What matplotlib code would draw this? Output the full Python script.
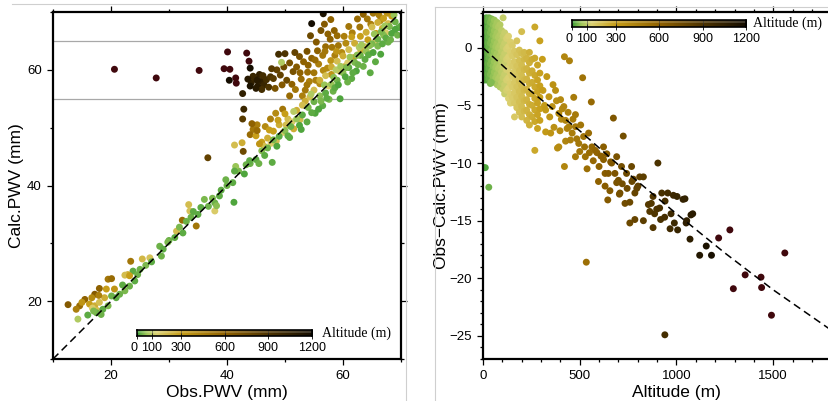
import numpy as np
import matplotlib
matplotlib.use("Agg")
import matplotlib.pyplot as plt
from matplotlib.colors import LinearSegmentedColormap
from matplotlib.lines import Line2D

plt.rcParams['font.family'] = ['Liberation Sans', 'DejaVu Sans']

# colour scale of altitude (m)
cb_ticks = [0, 100, 300, 600, 900, 1200]
cmap_nodes = [0, 60, 130, 300, 600, 900, 1200]
cmap_colors = [(0.25, 0.62, 0.22), (0.62, 0.78, 0.35), (0.86, 0.82, 0.45),
               (0.78, 0.62, 0.10), (0.56, 0.38, 0.00), (0.30, 0.20, 0.00),
               (0.08, 0.05, 0.00)]
over_color = (0.25, 0.03, 0.05)

# ---- left panel: Obs.PWV vs Calc.PWV, coloured by altitude ----
left_obs = [
    20.6, 27.8, 35.2, 39.5, 40.5, 40.1, 43.4, 43.8, 44.0, 40.4, 41.5, 41.6, 42.7, 42.9, 42.7, 36.7, 54.6, 56.6, 42.6, 41.3, 42.8,
    44.2, 44.8, 45.3, 45.9, 46.4, 46.0, 45.0, 44.5, 46.8, 47.2, 45.6, 44.0, 46.2, 47.5, 45.2, 43.6,
    48.0, 48.6, 49.2, 49.8, 50.3, 50.8, 51.4, 48.3, 49.5, 51.2, 52.0, 52.5, 50.0, 48.9, 51.7, 53.2, 47.7, 53.8, 52.8,
    53.5, 54.2, 55.0, 55.8, 56.5, 57.0, 57.8, 58.5, 54.6, 56.0, 57.3, 58.6, 59.2, 60.2, 53.0, 55.4, 56.2, 54.4, 58.0, 61.0,
    62.5, 63.5, 65.2, 66.4, 64.8, 50.8, 51.8, 49.6, 56.8, 57.9,
    53.9, 55.2, 56.9, 58.1, 59.8, 60.5, 61.6, 62.9, 59.0, 57.4, 55.6, 54.0, 52.6, 53.8, 55.3, 56.6, 57.9, 58.9, 60.4, 61.8,
    63.1, 64.3, 65.7, 66.8, 67.8, 68.4, 66.2, 64.2, 67.6,
    56.0, 57.0, 58.0, 59.0, 60.0, 61.0, 62.0, 63.0, 64.0, 65.0, 66.0, 67.0, 57.5, 59.4, 60.8, 62.5, 63.8, 61.5, 64.5, 65.5,
    67.4, 55.0, 53.5, 52.0, 50.5, 49.0, 48.0, 47.0, 46.0, 50.0, 52.6, 51.5, 48.5, 46.6, 45.2, 44.5, 44.0, 45.0,
    47.3, 48.8, 50.2, 51.2, 49.7, 53.0, 54.3, 47.6, 46.4, 45.6,
    44.3, 45.2, 47.5, 48.4,
    40.0, 41.0, 42.0, 43.0, 44.0, 45.0, 46.0, 47.0, 48.0, 49.0, 50.0, 51.0, 52.0, 53.0, 54.0, 55.0, 56.0, 57.0, 58.0, 59.0,
    60.0, 61.0, 62.0, 63.0, 64.0, 65.0, 66.0, 67.0, 68.0, 69.0, 69.6, 68.8, 66.5, 64.7, 59.5, 61.5, 63.5, 65.6, 62.3, 58.3,
    56.5, 55.2, 57.6, 47.8, 41.2, 41.5, 45.5, 53.8, 60.8, 66.0, 67.8, 70.0, 49.4, 51.5, 54.5, 58.8, 62.8,
    46.5, 48.6, 50.5, 52.5, 54.6, 56.2, 58.6, 60.4, 62.6, 64.4, 66.8, 68.4, 69.4, 67.2, 65.4, 63.2, 61.2, 59.6,
    50.8, 52.8, 55.8, 57.2, 59.2, 61.7, 63.8, 65.2, 67.4, 69.0, 68.2, 66.6, 64.6, 62.4, 60.6, 58.4, 56.8,
    43.3, 41.3, 43.9, 38.7, 37.9, 36.1, 33.4, 33.6, 35.0, 37.9, 34.7, 32.3, 33.0, 32.4, 31.3, 28.4, 29.0, 28.7, 26.7, 25.4,
    23.4, 23.8, 22.9, 22.4, 23.2, 24.1, 23.2, 22.4, 19.5, 20.1, 18.0, 17.2, 15.5, 14.6, 12.6, 16.3, 17.2, 18.0, 16.8, 17.6,
    18.9, 19.2, 20.6, 20.1, 20.9, 18.6, 17.5, 17.0, 19.5, 14.3, 21.5, 22.0, 25.0, 26.0, 27.0, 30.0, 31.0, 31.8, 33.8, 35.5,
    36.8, 37.5, 39.0, 39.8, 38.2, 34.2, 29.8, 24.6, 16.0, 18.3, 15.0, 14.0, 16.7, 17.9,
]
left_calc = [
    60.1, 58.6, 59.9, 60.2, 60.1, 63.1, 62.9, 61.5, 60.3, 58.2, 58.6, 57.7, 55.9, 53.2, 51.5, 44.8, 68.0, 69.7, 47.4, 47.0, 45.9,
    57.8, 58.5, 57.2, 58.0, 57.4, 56.6, 56.8, 58.9, 58.3, 57.0, 59.2, 57.2, 59.0, 58.8, 58.2, 58.4,
    58.5, 60.0, 59.1, 60.5, 58.2, 61.2, 59.7, 56.8, 57.4, 57.5, 60.5, 62.3, 62.8, 62.7, 63.0, 61.4, 60.2, 63.2, 58.4,
    56.5, 58.0, 59.5, 61.0, 62.5, 64.0, 65.3, 66.8, 62.0, 57.6, 60.3, 62.5, 64.2, 65.8, 55.5, 64.8, 66.8, 65.9, 59.2, 67.5,
    68.8, 69.6, 69.8, 68.5, 67.9, 55.5, 56.6, 53.2, 67.9, 68.7,
    59.6, 61.7, 63.2, 63.9, 63.0, 64.6, 66.4, 67.4, 65.9, 66.2, 63.3, 60.8, 59.5, 57.4, 58.2, 59.9, 61.6, 63.2, 60.6, 62.1,
    63.3, 65.2, 66.3, 67.2, 68.0, 69.3, 69.5, 68.8, 69.8,
    58.2, 59.0, 60.5, 61.5, 62.4, 63.5, 64.6, 65.8, 66.5, 67.4, 68.2, 68.9, 57.2, 59.8, 61.2, 62.6, 64.0, 65.7, 62.9, 64.8,
    66.4, 56.5, 54.6, 53.0, 51.5, 50.5, 49.4, 48.2, 47.5, 52.4, 51.4, 49.8, 47.7, 50.2, 50.5, 49.7, 48.8, 48.6,
    49.6, 51.3, 50.5, 51.0, 49.2, 53.9, 55.3, 47.3, 46.8, 47.2,
    50.7, 49.5, 51.5, 52.5,
    40.0, 40.5, 42.5, 42.0, 43.8, 44.5, 46.0, 46.5, 47.9, 48.5, 49.5, 50.2, 51.5, 52.2, 53.5, 54.5, 55.5, 56.0, 57.5, 58.2,
    59.5, 60.4, 61.3, 62.5, 63.2, 64.5, 65.3, 66.0, 67.5, 68.3, 67.3, 69.5, 62.7, 59.5, 55.0, 58.5, 60.6, 61.4, 59.8, 56.3,
    53.8, 52.5, 54.9, 44.0, 37.1, 43.3, 43.8, 51.0, 57.9, 64.1, 64.8, 67.6, 61.3, 52.8, 55.8, 60.0, 63.9,
    45.2, 46.8, 48.6, 50.4, 52.6, 54.6, 56.9, 58.8, 60.9, 62.6, 64.5, 66.3, 66.0, 67.6, 66.2, 64.3, 62.2, 60.6,
    48.3, 49.7, 53.2, 55.1, 57.4, 59.5, 61.8, 63.0, 65.5, 67.0, 65.2, 66.6, 64.2, 62.5, 60.4, 58.7, 57.4,
    43.6, 42.5, 44.3, 38.2, 37.0, 37.6, 36.7, 35.6, 35.0, 35.6, 33.0, 34.0, 33.8, 31.8, 32.1, 29.5, 29.0, 27.8, 27.5, 27.3,
    26.9, 25.2, 24.6, 24.5, 24.4, 23.5, 22.6, 21.8, 23.8, 23.9, 22.2, 21.2, 20.3, 19.2, 19.4, 19.5, 19.2, 19.8, 18.8, 18.4,
    20.6, 22.1, 22.1, 20.9, 20.6, 18.6, 18.0, 18.3, 19.2, 16.9, 21.2, 22.8, 25.5, 26.2, 26.8, 30.5, 31.0, 32.8, 34.5, 36.2,
    36.4, 37.8, 39.2, 41.0, 36.5, 35.5, 30.2, 24.6, 17.6, 17.7, 19.8, 18.6, 20.6, 21.0,
]
left_alt = [
    1400, 1450, 1250, 1350, 1400, 1350, 1300, 1250, 1200, 1200, 1250, 1450, 1050, 1000, 850, 800, 1200, 1150, 250, 200, 750,
    1050, 1000, 1100, 1050, 1000, 950, 1100, 1000, 950, 900, 1050, 1150, 950, 900, 1100, 1100,
    850, 800, 800, 750, 750, 700, 700, 700, 650, 600, 650, 700, 900, 950, 800, 600, 850, 700, 550,
    500, 450, 500, 450, 500, 550, 600, 600, 600, 400, 400, 450, 500, 450, 450, 650, 700, 750, 350, 500,
    550, 600, 500, 400, 450, 550, 500, 500, 650, 600,
    550, 550, 500, 500, 400, 400, 450, 500, 550, 600, 600, 600, 600, 500, 450, 400, 350, 350, 300, 300,
    250, 300, 300, 250, 200, 300, 450, 500, 350,
    250, 200, 250, 200, 250, 200, 250, 300, 250, 200, 250, 300, 150, 200, 150, 150, 200, 300, 120, 150,
    150, 200, 250, 250, 200, 250, 300, 250, 300, 300, 200, 250, 200, 400, 450, 500, 550, 300,
    300, 300, 200, 150, 150, 200, 200, 150, 200, 350,
    600, 550, 450, 400,
    30, 20, 40, 10, 30, 20, 50, 30, 40, 20, 50, 30, 60, 20, 40, 30, 50, 20, 60, 30,
    50, 20, 40, 30, 60, 40, 30, 50, 40, 30, 20, 60, 10, 20, 10, 20, 30, 20, 10, 30,
    20, 10, 40, 20, 10, 60, 30, 20, 30, 40, 30, 20, 80, 90, 80, 90, 80,
    20, 10, 20, 10, 20, 40, 20, 10, 30, 20, 20, 10, 30, 70, 60, 70, 60, 70,
    20, 10, 10, 20, 10, 20, 20, 10, 20, 10, 30, 40, 50, 50, 40, 50, 60,
    30, 20, 20, 20, 30, 40, 200, 180, 20, 150, 500, 550, 30, 20, 200, 30, 20, 30, 180, 220,
    500, 20, 250, 200, 300, 20, 30, 40, 500, 550, 600, 650, 600, 550, 650, 300, 250, 200, 150, 200,
    250, 300, 350, 30, 20, 20, 30, 40, 40, 80, 30, 20, 30, 40, 20, 30, 20, 40, 30, 20,
    30, 40, 20, 30, 50, 20, 40, 30, 20, 30, 350, 450, 400, 450,
]

# ---- right panel: altitude vs Obs-Calc.PWV ----
right_alt = [
    3, 3, 3, 3, 3, 3, 3, 10, 10, 10, 10, 10, 10, 17, 17, 17, 17, 17, 17, 17,
    24, 24, 24, 24, 24, 24, 31, 31, 31, 31, 31, 31, 31, 38, 38, 38, 38, 38, 38, 38,
    45, 45, 45, 45, 45, 45, 45, 52, 52, 52, 52, 52, 52, 59, 59, 59, 59, 59, 59, 59,
    66, 66, 66, 66, 66, 66, 73, 73, 73, 73, 73, 73, 73, 80, 80, 80, 80, 80, 80,
    88, 88, 88, 88, 88, 88, 88, 96, 96, 96, 96, 96, 96, 104, 104, 104, 104, 104, 104, 104,
    112, 112, 112, 112, 112, 112, 112, 122, 122, 122, 122, 122, 122, 132, 132, 132, 132, 132, 132, 132,
    142, 142, 142, 142, 142, 142, 142, 152, 152, 152, 152, 152, 152, 163, 163, 163, 163, 163, 163, 163,
    175, 175, 175, 175, 175, 175, 175, 188, 188, 188, 188, 188, 188, 188, 200, 200, 200, 200, 200, 200, 200, 200,
    213, 213, 213, 213, 213, 213, 213, 226, 226, 226, 226, 226, 226, 226, 240, 240, 240, 240, 240, 240, 240, 240,
    254, 254, 254, 254, 254, 254, 268, 268, 268, 268, 268, 268, 268, 268, 282, 282, 282, 282, 282, 282,
    294, 294, 294, 294, 294, 294,
    307, 310, 318, 324, 324, 330, 341, 345, 350, 358, 362, 367, 375, 380, 385, 392, 392, 398, 401, 405,
    410, 418, 421, 421, 427, 427, 435, 440, 444, 447, 452, 461, 465, 469, 478, 478, 478, 485, 495, 500,
    505, 515, 520, 525, 529, 534, 538, 546, 550, 560, 563, 570, 580,
    589, 597, 600, 610, 623, 623, 631, 631, 640, 645, 648, 660, 665, 674, 682, 691, 700, 705, 708, 716,
    720, 725, 734, 742, 745, 759, 759, 768, 770, 785, 785, 795, 801, 810,
    656, 691, 777, 829, 829, 855, 898, 924, 941, 967, 984, 1044, 1053, 1084,
    862, 870, 879, 879, 887, 904, 913, 918, 939, 940, 955, 972, 989, 1003, 1006, 1034, 1050, 1070, 1075, 1120,
    1154, 1181, 1218,
    1276, 1294, 1355, 1437, 1440, 1491, 1560,
    3, 12, 30, 43,
]
right_diff = [
    2.5, 1.6, 0.7, -0.2, -1.1, -2.0, -2.8, 2.2, 1.2, 0.3, -0.6, -1.5, -2.4, 2.6, 1.7, 0.8, -0.1, -1.0, -1.9, -2.8,
    2.3, 1.3, 0.4, -0.5, -1.4, -2.3, 2.6, 1.8, 0.9, 0.0, -0.9, -1.8, -2.7, 2.2, 1.3, 0.4, -0.5, -1.4, -2.3, -3.1,
    2.5, 1.6, 0.7, -0.2, -1.1, -2.0, -2.9, 2.0, 1.1, 0.2, -0.7, -1.6, -2.5, 2.4, 1.5, 0.6, -0.3, -1.2, -2.1, -3.0,
    1.9, 1.0, 0.1, -0.8, -1.7, -2.6, 2.2, 1.3, 0.4, -0.5, -1.4, -2.3, -3.2, 1.8, 0.9, 0.0, -0.9, -1.8, -2.7,
    2.0, 1.1, 0.2, -0.7, -1.6, -2.5, -3.4, 1.5, 0.6, -0.3, -1.2, -2.1, -3.0, 2.6, 1.0, 0.1, -0.8, -1.7, -2.6, -3.6,
    1.3, 0.4, -0.5, -1.4, -2.3, -3.2, -4.0, 0.8, -0.1, -1.0, -1.9, -2.8, -3.7, 1.0, 0.1, -0.8, -1.7, -2.6, -3.5, -4.4,
    0.5, -0.4, -1.3, -2.2, -3.1, -4.0, -4.8, 0.2, -0.7, -1.6, -2.5, -3.4, -4.3, -0.3, -1.2, -2.1, -3.0, -3.9, -4.8, -6.0,
    0.6, -0.6, -1.6, -2.5, -3.4, -4.3, -5.2, -0.2, -1.1, -2.0, -2.9, -3.8, -4.7, -5.6, 1.4, -0.5, -1.5, -2.4, -3.3, -4.2, -5.1, -6.0,
    -0.4, -1.0, -1.9, -2.8, -3.7, -4.6, -5.5, -0.9, -1.8, -2.7, -3.6, -4.5, -5.4, -6.3, -0.4, -1.3, -2.2, -3.1, -4.0, -4.9, -5.8, -6.7,
    -1.0, -2.0, -3.0, -4.0, -5.0, -6.0, 1.8, -0.9, -2.4, -3.4, -4.4, -5.4, -6.4, -8.9, -1.5, -2.8, -3.8, -4.8, -5.8, -7.0,
    0.6, -2.2, -3.3, -4.3, -5.3, -6.3,
    -1.0, -3.7, -5.0, -5.4, -7.3, -2.5, -4.25, -6.0, -7.4, -5.1, -3.2, -6.9, -3.7, -4.6, -8.7, -5.7, -8.6, -7.2, -4.5, -6.2,
    -5.3, -5.1, -0.78, -10.3, -6.3, -8.1, -7.0, -5.6, -6.85, -1.13, -8.0, -7.4, -6.2, -4.3, -5.8, -6.85, -9.45, -7.9, -8.3, -9.0,
    -6.7, -2.6, -7.7, -8.6, -9.45, -18.6, -10.5, -7.4, -9.1, -4.7, -8.6, -9.8, -8.9,
    -9.1, -11.6, -10.3, -9.4, -8.6, -9.7, -10.9, -12.0, -9.2, -13.2, -10.9, -9.9, -10.0, -6.1, -10.9, -9.45, -11.5, -12.7, -12.6, -10.3,
    -11.8, -7.66, -13.5, -10.9, -12.2, -13.4, -15.2, -10.3, -11.6, -12.6, -14.9, -12.2, -12.0, -11.2,
    -12.4, -11.7, -11.4, -11.2, -15.0, -13.6, -14.0, -12.6, -13.3, -15.7, -12.8, -13.1, -15.0, -14.4,
    -14.2, -13.5, -12.9, -15.6, -14.4, -10.0, -13.9, -14.9, -14.7, -24.9, -12.6, -14.4, -15.2, -12.9, -15.8, -13.15, -15.2, -16.6, -14.5, -18.0,
    -17.2, -18.0, -16.5,
    -15.8, -20.9, -19.7, -19.9, -20.8, -23.2, -17.8,
    -10.4, -10.4, -12.1, -3.0,
]

# fitted curve (dashed)
fit_alt = [0, 250, 500, 750, 1000, 1250, 1500, 1800, 2000]
fit_diff = [0, -3.8, -7.2, -10.9, -14.4, -17.8, -21.0, -24.5, -26.8]

cmap = LinearSegmentedColormap.from_list(
    'alt', [(n / 1200, c) for n, c in zip(cmap_nodes, cmap_colors)])
cmap.set_over(over_color)
norm = plt.Normalize(0, 1200)

fig = plt.figure(figsize=(8.29, 4.01), dpi=100)


def style_axes(ax):
    for s in ax.spines.values():
        s.set_linewidth(1.6)
    ax.tick_params(which='both', direction='out', top=True, right=True,
                   labelsize=9.5, width=0.9)
    ax.tick_params(which='major', length=4, pad=4)
    ax.tick_params(which='minor', length=2)


def add_colorbar(x0, y0, w, h, lx):
    cax = fig.add_axes([x0, y0, w, h])
    grad = np.linspace(0, 1200, 400)[None, :]
    cax.imshow(grad, extent=[0, 1200, 0, 1], aspect='auto', cmap=cmap, norm=norm)
    # lighter top band like the shaded bar
    cax.axhspan(0.55, 1, color='white', alpha=0.18, lw=0)
    for t in cb_ticks[1:-1]:
        cax.axvline(t, color='#333333', lw=0.6, alpha=0.6)
    cax.set_xlim(0, 1200)
    cax.set_yticks([])
    cax.set_xticks(cb_ticks)
    cax.set_xticklabels([str(t) for t in cb_ticks])
    cax.tick_params(axis='x', direction='inout', length=4, width=0.6, labelsize=9, pad=2)
    labs = cax.get_xticklabels()
    labs[0].set_horizontalalignment('right')
    labs[0].set_x(0)
    for s in cax.spines.values():
        s.set_linewidth(1.2)
    fig.text(lx, y0 + h / 2, 'Altitude (m)', family='Liberation Serif',
             fontsize=10, va='center', ha='left')


# ---- left axes ----
ax1 = fig.add_axes([0.0639, 0.1047, 0.4198, 0.8653])
ax1.axhline(55, color='#a8a8a8', lw=0.9, zorder=1)
ax1.axhline(65, color='#a8a8a8', lw=0.9, zorder=1)
ax1.scatter(left_obs, left_calc, c=left_alt, cmap=cmap, norm=norm, s=25,
            linewidths=0, zorder=2)
ax1.plot([10, 70], [10, 70], color='black', lw=1.1, ls=(0, (5, 3)), zorder=3)
ax1.set_xlim(10, 70)
ax1.set_ylim(10, 70)
ax1.set_xticks([20, 40, 60])
ax1.set_xticks([10, 30, 50, 70], minor=True)
ax1.set_yticks([20, 40, 60])
ax1.set_yticks([10, 30, 50, 70], minor=True)
style_axes(ax1)
ax1.set_xlabel('Obs.PWV (mm)', fontsize=12.5, labelpad=2)
ax1.set_ylabel('Calc.PWV (mm)', fontsize=12.5)
ax1.yaxis.set_label_coords(-0.083, 0.5)

add_colorbar(0.1653, 0.1621, 0.2111, 0.015, 0.388)

# ---- right axes (runs off the right edge of the figure) ----
ax2 = fig.add_axes([0.5826, 0.1047, 0.4668, 0.8653])
ax2.scatter(right_alt, right_diff, c=right_alt, cmap=cmap, norm=norm, s=25,
            linewidths=0, zorder=2)
ax2.plot(fit_alt, fit_diff, color='black', lw=1.1, ls=(0, (5, 3)), zorder=3)
ax2.set_xlim(0, 2000)
ax2.set_ylim(-27, 3.1)
ax2.set_xticks([0, 500, 1000, 1500])
ax2.set_xticks(np.arange(0, 2001, 100), minor=True)
ax2.set_yticks([0, -5, -10, -15, -20, -25])
ax2.set_yticks(np.arange(-27, 4, 1), minor=True)
ax2.set_yticklabels(['0', '\u22125', '\u221210', '\u221215', '\u221220', '\u221225'])
style_axes(ax2)
ax2.set_xlabel('Altitude (m)', fontsize=12.5, labelpad=2)
ax2.set_ylabel('Obs\u2212Calc.PWV (mm)', fontsize=12.5)
ax2.yaxis.set_label_coords(-0.088, 0.5)

add_colorbar(0.690, 0.9327, 0.2099, 0.0175, 0.908)

# screenshot frame lines
lc = '#cfcfcf'
fig.add_artist(Line2D([12 / 829, 406 / 829], [1 - 4 / 401, 1 - 4 / 401], color=lc, lw=0.8))
fig.add_artist(Line2D([406 / 829, 406 / 829], [0, 1 - 4 / 401], color=lc, lw=0.8))
fig.add_artist(Line2D([435 / 829, 1], [1 - 7 / 401, 1 - 7 / 401], color=lc, lw=0.8))
fig.add_artist(Line2D([435 / 829, 435 / 829], [0, 1 - 7 / 401], color=lc, lw=0.8))

fig.savefig('out.png', dpi=100)
